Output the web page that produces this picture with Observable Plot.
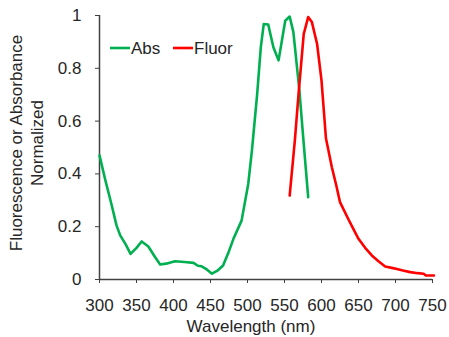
<!DOCTYPE html>
<html>
<head>
<meta charset="utf-8">
<script src="https://cdn.jsdelivr.net/npm/d3@7"></script>
<script src="https://cdn.jsdelivr.net/npm/@observablehq/plot@0.6"></script>
<style>
  html, body { margin: 0; padding: 0; background: #fff; }
  #chart { width: 449px; height: 337px; }
</style>
</head>
<body>
<div id="chart"></div>
<script>
// Absorbance spectrum (normalized)
const absWavelength = [300,308,316,323,328,335,342,350,357,366,375,382,390,402,415,427,433,438,445,452,460,467,474,481,492,501,506,513,518,522,528,535,542,551,557,562,570,576,582];
const absValue      = [0.47,0.375,0.287,0.205,0.167,0.135,0.097,0.12,0.144,0.125,0.085,0.057,0.06,0.069,0.066,0.063,0.052,0.05,0.038,0.022,0.035,0.053,0.1,0.154,0.223,0.362,0.489,0.70,0.88,0.968,0.966,0.88,0.83,0.98,0.996,0.937,0.72,0.514,0.312];

// Fluorescence spectrum (normalized)
const fluorWavelength = [557,564,569,576,582,587,594,600,606,614,620,625,636,643,650,659,668,677,686,695,702,710,720,730,738,741,752];
const fluorValue      = [0.318,0.527,0.703,0.93,0.994,0.975,0.893,0.754,0.535,0.425,0.356,0.293,0.23,0.192,0.154,0.12,0.091,0.069,0.049,0.044,0.04,0.034,0.028,0.024,0.022,0.015,0.015];

const xTicks = [300,350,400,450,500,550,600,650,700,750];
const yTicks = [0,0.2,0.4,0.6,0.8,1];
const yTickLabels = ["0","0.2","0.4","0.6","0.8","1"];

const seriesNames = ["Abs","Fluor"];
const seriesColors = ["#00B050","#FF0000"];

const xTitle = "Wavelength (nm)";
const yTitleLines = ["Fluorescence or Absorbance","Normalized"];

const absData = absWavelength.map((w,i) => ({w, v: absValue[i]}));
const fluorData = fluorWavelength.map((w,i) => ({w, v: fluorValue[i]}));

const axisColor = "#404040";
const textColor = "#262626";
const font = "'Liberation Sans', Arial, sans-serif";

const plot = Plot.plot({
  width: 449,
  height: 337,
  marginLeft: 99,
  marginRight: 17,
  marginTop: 15,
  marginBottom: 58,
  style: { fontFamily: font, fontSize: "17px", color: textColor, background: "#fff", overflow: "visible" },
  x: { domain: [300, 750] },
  y: { domain: [0, 1] },
  marks: [
    Plot.axisX({ ticks: xTicks, tickSize: 4, tickPadding: 15, stroke: axisColor, fill: textColor, label: null, tickFormat: d => String(d) }),
    Plot.axisY({ ticks: yTicks, tickSize: 4, tickPadding: 14, stroke: axisColor, fill: textColor, label: null, tickFormat: d => yTickLabels[yTicks.indexOf(d)] }),
    Plot.ruleY([0], { stroke: axisColor, strokeWidth: 1.5 }),
    Plot.ruleX([300], { stroke: axisColor, strokeWidth: 1.5 }),
    Plot.line(absData, { x: "w", y: "v", stroke: seriesColors[0], strokeWidth: 2.6, clip: false }),
    Plot.line(fluorData, { x: "w", y: "v", stroke: seriesColors[1], strokeWidth: 2.6, clip: false })
  ]
});

document.getElementById("chart").appendChild(plot);

// Titles and legend (layout)
const svg = d3.select(plot);
svg.append("text")
  .attr("x", 251).attr("y", 332)
  .attr("text-anchor", "middle")
  .attr("font-family", font).attr("font-size", 17)
  .attr("fill", textColor)
  .text(xTitle);

const yt = svg.append("g").attr("transform", "translate(0,143) rotate(-90)");
yTitleLines.forEach((t, i) => {
  yt.append("text")
    .attr("x", 0).attr("y", 22 + i * 21)
    .attr("text-anchor", "middle")
    .attr("font-family", font).attr("font-size", 17)
    .attr("fill", textColor)
    .text(t);
});

const legendX = [110, 173];
seriesNames.forEach((name, i) => {
  const g = svg.append("g").attr("transform", `translate(${legendX[i]},48)`);
  g.append("line").attr("x1", 0).attr("x2", 20).attr("y1", 0).attr("y2", 0)
    .attr("stroke", seriesColors[i]).attr("stroke-width", 2.6);
  g.append("text").attr("x", 21).attr("y", 0).attr("dy", "0.36em")
    .attr("text-anchor", "start")
    .attr("font-family", font).attr("font-size", 17)
    .attr("fill", textColor)
    .text(name);
});
</script>
</body>
</html>
